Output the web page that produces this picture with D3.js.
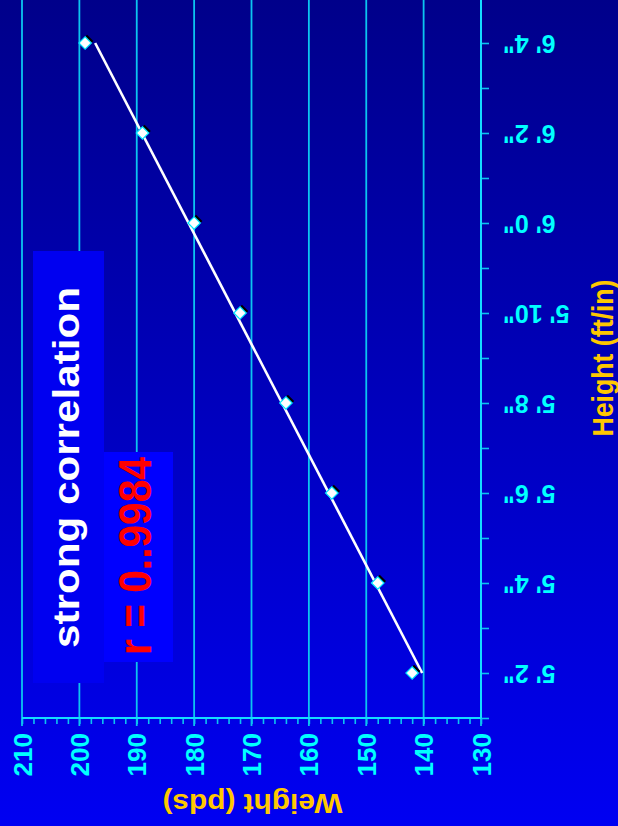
<!DOCTYPE html>
<html>
<head>
<meta charset="utf-8">
<script src="https://cdn.jsdelivr.net/npm/d3@7"></script>
<style>
  html, body { margin: 0; padding: 0; background: #0000c0; }
  svg { display: block; }
  text { font-family: Arial, "Liberation Sans", sans-serif; font-weight: bold; }
</style>
</head>
<body>
<svg id="chart" width="618" height="826"></svg>
<script>
// Height (inches) and weight (pounds) of each measured person
const heights = [62, 64, 66, 68, 70, 72, 74, 76];
const weights = [142, 148, 156, 164, 172, 180, 189, 199];

// Axis ticks and their labels
const heightTicks = [62, 64, 66, 68, 70, 72, 74, 76];
const heightTickLabels = ["5' 2\"", "5' 4\"", "5' 6\"", "5' 8\"", "5' 10\"", "6' 0\"", "6' 2\"", "6' 4\""];
const weightTicks = [210, 200, 190, 180, 170, 160, 150, 140, 130];

// Annotation texts
const noteText = "strong correlation";
const rText = "r = 0..9984";
const weightTitle = "Weight (pds)";
const heightTitle = "Height (ft/in)";

const W = 618, H = 826;
const svg = d3.select("#chart");

// Background: vertical gradient from navy to bright blue
const defs = svg.append("defs");
const grad = defs.append("linearGradient")
  .attr("id", "bg").attr("x1", 0).attr("y1", 0).attr("x2", 0).attr("y2", 1);
grad.append("stop").attr("offset", "0%").attr("stop-color", "#00008a");
grad.append("stop").attr("offset", "100%").attr("stop-color", "#0000f2");
svg.append("rect").attr("width", W).attr("height", H).attr("fill", "url(#bg)");

// Scales: weight runs along the horizontal axis (high on the left),
// height runs along the vertical axis (tall at the top)
const x = d3.scaleLinear().domain([210, 130]).range([22, 481]);
const y = d3.scaleLinear().domain([61, 77]).range([718, -2]);

const cyan = "#00ffff";
const gridColor = "#0cc4f0";
const axisColor = "#14dcff";

// Vertical grid lines at the labelled weights
svg.append("g").selectAll("line")
  .data(weightTicks)
  .join("line")
  .attr("x1", d => x(d)).attr("x2", d => x(d))
  .attr("y1", y.range()[1]).attr("y2", y.range()[0] + 8)
  .attr("stroke", gridColor).attr("stroke-width", 1.8);

// Bottom axis: minor ticks every 2 lb
const minorW = d3.range(130, 211, 2);
const xAxisG = svg.append("g").attr("transform", `translate(0,${y.range()[0]})`);
xAxisG.call(d3.axisBottom(x).tickValues(minorW).tickSize(6).tickFormat(""))
  .call(g => g.select(".domain").remove())
  .call(g => g.selectAll(".tick line").attr("stroke", gridColor).attr("stroke-width", 1.6));

// Bottom axis labels (rotated)
const xLab = svg.append("g").attr("transform", `translate(0,${y.range()[0]})`);
xLab.call(d3.axisBottom(x).tickValues(weightTicks).tickSize(0).tickFormat(d3.format("d")))
  .call(g => g.select(".domain").remove())
  .call(g => g.selectAll(".tick text")
    .attr("x", 0).attr("y", 0).attr("dy", "0.35em")
    .attr("transform", "translate(0,15) rotate(-90)")
    .attr("text-anchor", "end")
    .attr("fill", cyan)
    .style("font-size", "26px"));

// Right axis: ticks every inch, labels every 2 inches (upside down)
const minorH = d3.range(61, 77, 1);
const yAxisG = svg.append("g").attr("transform", `translate(${x.range()[1]},0)`);
yAxisG.call(d3.axisRight(y).tickValues(minorH).tickSize(8).tickFormat(""))
  .call(g => g.select(".domain").remove())
  .call(g => g.selectAll(".tick line").attr("stroke", gridColor).attr("stroke-width", 1.6));

const yLab = svg.append("g").attr("transform", `translate(${x.range()[1]},0)`);
yLab.call(d3.axisRight(y).tickValues(heightTicks).tickSize(0)
    .tickFormat((d, i) => heightTickLabels[i]))
  .call(g => g.select(".domain").remove())
  .call(g => g.selectAll(".tick text")
    .attr("x", 0).attr("y", 0).attr("dy", "0.35em")
    .attr("transform", "translate(22,0) rotate(180)")
    .attr("text-anchor", "end")
    .attr("fill", cyan)
    .style("font-size", "25px"));

// Axis lines
svg.append("line")
  .attr("x1", x.range()[0]).attr("x2", x.range()[1])
  .attr("y1", y.range()[0]).attr("y2", y.range()[0])
  .attr("stroke", axisColor).attr("stroke-width", 2);
svg.append("line")
  .attr("x1", x.range()[1]).attr("x2", x.range()[1])
  .attr("y1", y.range()[1]).attr("y2", y.range()[0])
  .attr("stroke", axisColor).attr("stroke-width", 2);

// Axis titles
svg.append("text")
  .attr("transform", `translate(${(x.range()[0] + x.range()[1]) / 2 + 1},794) rotate(180)`)
  .attr("text-anchor", "middle")
  .attr("fill", "#ffc800")
  .attr("textLength", 180).attr("lengthAdjust", "spacingAndGlyphs")
  .style("font-size", "28px")
  .text(weightTitle);

svg.append("text")
  .attr("transform", `translate(613,${(y.range()[0] + y.range()[1]) / 2}) rotate(-90)`)
  .attr("text-anchor", "middle")
  .attr("fill", "#ffc800")
  .attr("textLength", 157).attr("lengthAdjust", "spacingAndGlyphs")
  .style("font-size", "29px")
  .text(heightTitle);

// Annotation boxes
svg.append("rect").attr("x", 33).attr("y", 251).attr("width", 71).attr("height", 432)
  .attr("fill", "#0000f0");
svg.append("rect").attr("x", 104).attr("y", 452).attr("width", 69).attr("height", 210)
  .attr("fill", "#0000ff");

svg.append("text")
  .attr("transform", "translate(79,467.5) rotate(-90)")
  .attr("text-anchor", "middle")
  .attr("fill", "#ffffff")
  .attr("textLength", 361).attr("lengthAdjust", "spacingAndGlyphs")
  .style("font-size", "36px")
  .text(noteText);

svg.append("text")
  .attr("transform", "translate(151,556) rotate(-90)")
  .attr("text-anchor", "middle")
  .attr("fill", "#ff0000")
  .attr("textLength", 198).attr("lengthAdjust", "spacingAndGlyphs")
  .style("font-size", "46px")
  .text(rText);

// Least-squares trend line of weight on height
const mh = d3.mean(heights), mw = d3.mean(weights);
const slope = d3.sum(heights, (h, i) => (h - mh) * (weights[i] - mw)) /
              d3.sum(heights, h => (h - mh) * (h - mh));
const fit = h => mw + slope * (h - mh);
const [hMin, hMax] = d3.extent(heights);
svg.append("line")
  .attr("x1", x(fit(hMin))).attr("y1", y(hMin))
  .attr("x2", x(fit(hMax))).attr("y2", y(hMax))
  .attr("stroke", "#ffffff").attr("stroke-width", 2.6);

// Data points: white diamonds with a dark drop shadow
const pts = heights.map((h, i) => ({ h, w: weights[i] }));
const diamond = d3.symbol().type(d3.symbolDiamond2).size(100);
svg.append("g").selectAll("path")
  .data(pts)
  .join("path")
  .attr("d", diamond)
  .attr("transform", d => `translate(${x(d.w) + 2},${y(d.h) - 2})`)
  .attr("fill", "#000000");
svg.append("g").selectAll("path")
  .data(pts)
  .join("path")
  .attr("d", diamond)
  .attr("transform", d => `translate(${x(d.w)},${y(d.h)})`)
  .attr("fill", "#ffffff")
  .attr("stroke", "#00e8ff")
  .attr("stroke-width", 1.2);
</script>
</body>
</html>
